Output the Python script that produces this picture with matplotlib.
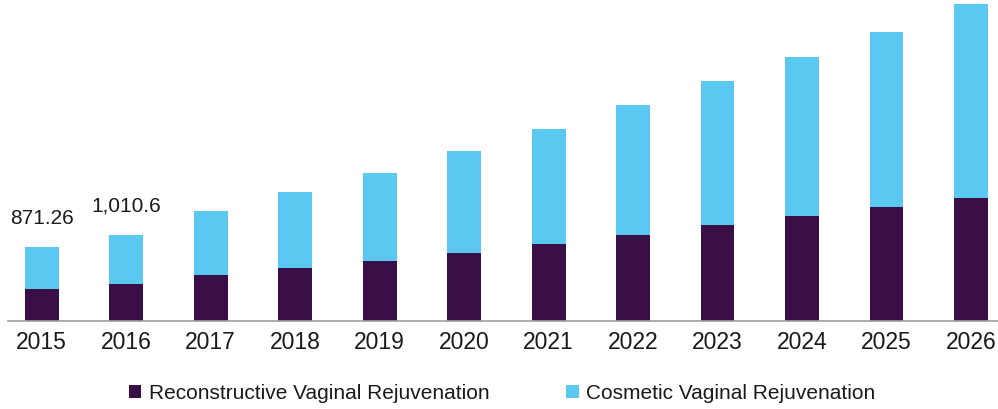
import matplotlib
matplotlib.use("Agg")
import matplotlib.pyplot as plt
import numpy as np

years = ["2015", "2016", "2017", "2018", "2019", "2020",
         "2021", "2022", "2023", "2024", "2025", "2026"]
reconstructive = [377, 435, 541, 624, 706, 800, 906, 1012, 1130, 1236, 1342, 1448]
cosmetic = [494.26, 575.6, 754, 894, 1036, 1201, 1354, 1530, 1695, 1871, 2060, 2283]
label_years = {0: "871.26", 1: "1,010.6"}

dark = "#3a0f47"
light = "#5bc8f2"

plt.rcParams['font.family'] = ['Liberation Sans', 'DejaVu Sans']

fig = plt.figure(figsize=(9.98, 4.09), dpi=100)
ax = fig.add_axes([8 / 998, 88 / 409, 990 / 998, 321 / 409])

x = np.arange(len(years))
w = 0.40
ax.bar(x, reconstructive, w, color=dark, label="Reconstructive Vaginal Rejuvenation")
ax.bar(x, cosmetic, w, bottom=reconstructive, color=light, label="Cosmetic Vaginal Rejuvenation")

for i, txt in label_years.items():
    total = reconstructive[i] + cosmetic[i]
    ax.annotate(txt, (x[i], total), xytext=(0, 14), textcoords="offset points",
                ha="center", va="bottom", fontsize=15, color="#1a1a1a")

ax.set_xlim(-0.4, 11.32)
ax.set_ylim(0, 3778)
ax.set_xticks(x)
ax.set_xticklabels(years, fontsize=16.5, color="#1a1a1a")
ax.set_yticks([])
for s in ["top", "right", "left"]:
    ax.spines[s].set_visible(False)
ax.spines["bottom"].set_color("#a0a0a0")
ax.spines["bottom"].set_linewidth(1.2)
ax.tick_params(axis="x", length=0, pad=7)

handles, labels = ax.get_legend_handles_labels()
fig.legend(handles, labels, loc="center", bbox_to_anchor=(0.503, 0.039), ncol=2,
           frameon=False, fontsize=15, handlelength=0.6, handleheight=0.6,
           handletextpad=0.35, columnspacing=3.7, labelcolor="#1a1a1a")

plt.savefig("out.png", dpi=100)
